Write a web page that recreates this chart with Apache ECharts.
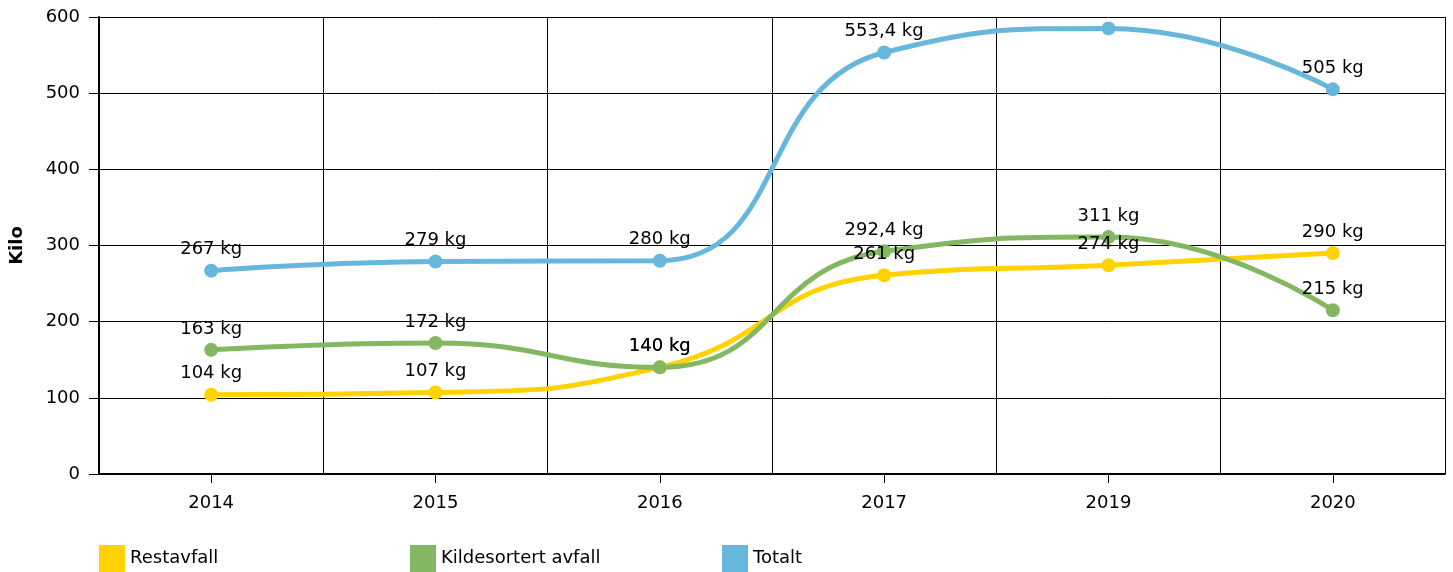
<!DOCTYPE html>
<html>
<head>
<meta charset="utf-8">
<script src="https://cdn.jsdelivr.net/npm/echarts@6/dist/echarts.min.js"></script>
<style>
html,body{margin:0;padding:0;background:#fff;}
#chart{width:1453px;height:572px;}
</style>
</head>
<body>
<div id="chart"></div>
<script>
const categories = ['2014', '2015', '2016', '2017', '2019', '2020'];
const restavfall = [104, 107, 140, 261, 274, 290];
const kildesortert = [163, 172, 140, 292.4, 311, 215];
const totalt = [267, 279, 280, 553.4, 585, 505];
const totaltHiddenLabels = ['2019'];
const yTicks = [0, 100, 200, 300, 400, 500, 600];
const seriesNames = ['Restavfall', 'Kildesortert avfall', 'Totalt'];
const colors = ['#FFD200', '#84B761', '#67B7DC'];

const FONT = 'DejaVu Sans';
const fmt = v => String(v).replace('.', ',') + ' kg';

function mkSeries(name, values, color, hidden) {
  return {
    name: name,
    type: 'line',
    smooth: 0.5,
    data: values.map((v, i) => hidden && hidden.includes(categories[i])
      ? { value: v, label: { show: false } } : v),
    symbol: 'circle',
    symbolSize: 14,
    color: color,
    lineStyle: { width: 5, color: color },
    itemStyle: { color: color },
    label: {
      show: true,
      position: 'top',
      distance: 5,
      color: '#000',
      fontFamily: FONT,
      fontSize: 18,
      formatter: p => fmt(p.value)
    },
    emphasis: { disabled: true },
    animation: false
  };
}

const legendLefts = [99, 410, 722];
const chart = echarts.init(document.getElementById('chart'));
chart.setOption({
  animation: false,
  grid: { left: 99, right: 8, top: 17, bottom: 98 },
  legend: seriesNames.map((n, i) => ({
    data: [n],
    left: legendLefts[i],
    top: 545,
    padding: 0,
    icon: 'rect',
    itemWidth: 26,
    itemHeight: 27,
    itemGap: 6,
    textStyle: { fontFamily: FONT, fontSize: 18, color: '#000' },
    selectedMode: false
  })),
  xAxis: {
    type: 'category',
    data: categories,
    boundaryGap: true,
    axisLine: { lineStyle: { color: '#000', width: 2 } },
    axisTick: { show: true, alignWithLabel: true, length: 9, lineStyle: { color: '#000', width: 1 } },
    axisLabel: { margin: 20, color: '#000', fontFamily: FONT, fontSize: 18 },
    splitLine: { show: true, lineStyle: { color: '#000', width: 1 } }
  },
  yAxis: {
    type: 'value',
    min: yTicks[0],
    max: yTicks[yTicks.length - 1],
    interval: 100,
    name: 'Kilo',
    nameLocation: 'middle',
    nameRotate: 90,
    nameGap: 73,
    nameTextStyle: { fontFamily: FONT, fontSize: 18, fontWeight: 'bold', color: '#000' },
    axisLine: { show: true, lineStyle: { color: '#000', width: 2 } },
    axisTick: { show: true, length: 10, lineStyle: { color: '#000', width: 1 } },
    axisLabel: { margin: 19, color: '#000', fontFamily: FONT, fontSize: 18 },
    splitLine: { show: true, lineStyle: { color: '#000', width: 1 } }
  },
  series: [
    mkSeries(seriesNames[0], restavfall, colors[0]),
    mkSeries(seriesNames[1], kildesortert, colors[1]),
    mkSeries(seriesNames[2], totalt, colors[2], totaltHiddenLabels)
  ]
});
</script>
</body>
</html>
